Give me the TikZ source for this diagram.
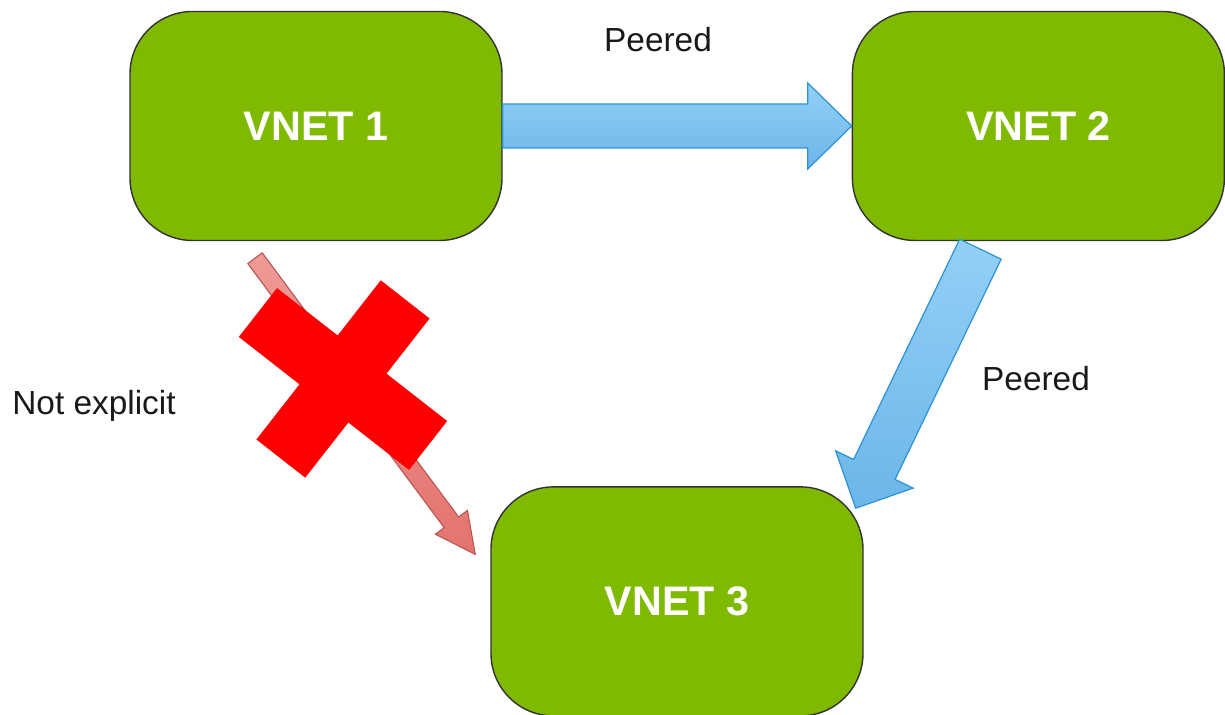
\documentclass[tikz,border=0pt]{standalone}
\usepackage{fontspec}
\setmainfont{Liberation Sans}
\usepackage{xcolor}
\usepackage{tikz}
\usetikzlibrary{positioning, calc}
\definecolor{vnetgreen}{HTML}{7FBA00}
\definecolor{vnetedge}{HTML}{333333}
\definecolor{peerlight}{HTML}{93D0F6}
\definecolor{peerdark}{HTML}{6BB6E9}
\definecolor{peeredge}{HTML}{2E93D6}
\definecolor{blocklight}{HTML}{EE9A95}
\definecolor{blockdark}{HTML}{E4736E}
\definecolor{blockedge}{HTML}{B85450}

% fat arrow: style, from, to, half shaft, half head, head length
\newcommand{\flexarrow}[6]{%
  \coordinate (fa-c) at ($(#3)!#6!(#2)$);
  \path[#1] ($(#2)!#4!90:(#3)$) -- ($(fa-c)!#4!90:(#3)$) -- ($(fa-c)!#5!90:(#3)$)
    -- (#3) -- ($(fa-c)!#5!-90:(#3)$) -- ($(fa-c)!#4!-90:(#3)$)
    -- ($(#2)!#4!-90:(#3)$) -- cycle;
}

\begin{document}
\begin{tikzpicture}[
  vnet/.style={rectangle, rounded corners=1.25cm, draw=vnetedge, line width=0.8pt,
               fill=vnetgreen, text=white, minimum width=7.44cm, minimum height=4.58cm,
               inner sep=0pt, font=\fontsize{23.5}{28}\selectfont\bfseries},
  lbl/.style={text=black!90, font=\fontsize{19}{23}\selectfont},
  peerarrow/.style={draw=peeredge, line width=0.7pt, top color=peerlight, bottom color=peerdark},
  blockedarrow/.style={draw=blockedge, line width=0.6pt, top color=blocklight, bottom color=blockdark},
]
  \useasboundingbox (0,0) rectangle (24.5,14.3);

  \node[vnet] (v1) at (6.32,11.78) {VNET 1};
  \node[vnet, right=6.98cm of v1] (v2) {VNET 2};
  \node[vnet, below=4.9cm of v1, xshift=7.22cm] (v3) {VNET 3};

  \coordinate (p2a) at ($(v2.south)+(-1.16,-0.16)$);
  \coordinate (p2b) at ($(v3.north east)+(-0.16,-0.44)$);
  \coordinate (nxa) at ($(v1.south)+(-1.22,-0.34)$);
  \coordinate (nxb) at ($(v3.west)+(-0.3,0.94)$);
  \coordinate (xc) at (6.86,6.72);

  \flexarrow{peerarrow}{v1.east}{v2.west}{0.44cm}{0.86cm}{0.88cm}
  \flexarrow{peerarrow}{p2a}{p2b}{0.46cm}{0.86cm}{0.86cm}
  \flexarrow{blockedarrow}{nxa}{nxb}{0.18cm}{0.4cm}{0.8cm}

  % the cross over the implicit link
  \fill[red, rotate around={-38:(xc)}, shift={(xc)}]
    (0.62,0.62) -- (0.62,2.02) -- (-0.62,2.02) -- (-0.62,0.62) -- (-2.16,0.62)
    -- (-2.16,-0.62) -- (-0.62,-0.62) -- (-0.62,-2.02) -- (0.62,-2.02)
    -- (0.62,-0.62) -- (2.16,-0.62) -- (2.16,0.62) -- cycle;

  \node[lbl] (pl1) at (13.16,13.5) {Peered};
  \node[lbl] (pl2) at (20.72,6.72) {Peered};
  \node[lbl] (nl) at (1.88,6.18) {Not explicit};
\end{tikzpicture}
\end{document}
